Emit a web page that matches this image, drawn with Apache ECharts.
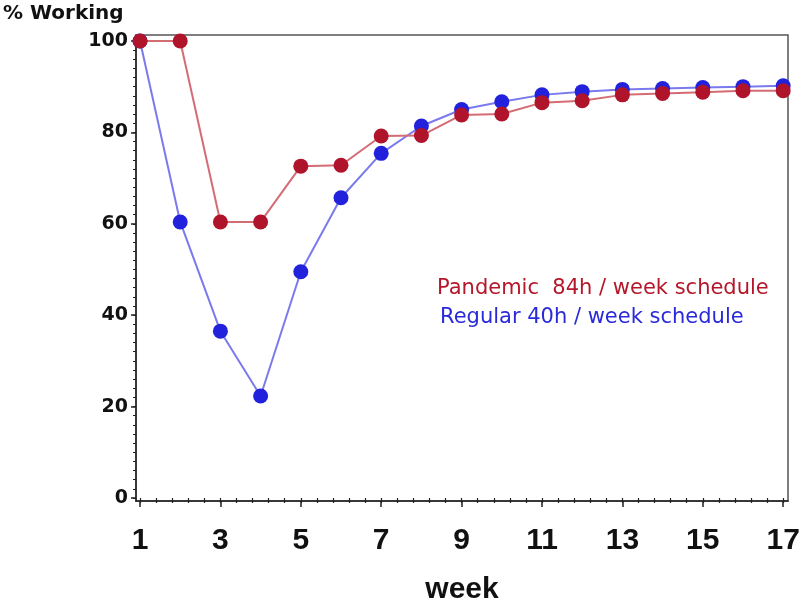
<!DOCTYPE html>
<html>
<head>
<meta charset="utf-8">
<script src="https://cdn.jsdelivr.net/npm/echarts@6/dist/echarts.min.js"></script>
<style>html,body{margin:0;padding:0;background:#fff;}#c{width:800px;height:601px;}</style>
</head>
<body>
<div id="c"></div>
<script>
var weeks = [1,2,3,4,5,6,7,8,9,10,11,12,13,14,15,16,17];
var pandemic = [100,100,60.4,60.4,72.6,72.8,79.2,79.3,83.8,84.0,86.5,86.9,88.2,88.5,88.8,89.1,89.1];
var regular = [100,60.4,36.5,22.3,49.5,65.7,75.4,81.4,85.0,86.7,88.2,88.9,89.4,89.6,89.8,90.0,90.2];
var xTickLabels = [1,3,5,7,9,11,13,15,17];
var yTickLabels = [0,20,40,60,80,100];
var seriesNames = ['Pandemic  84h / week schedule', 'Regular 40h / week schedule'];

var xMinor = [];
for (var i = 0; i <= 40; i++) xMinor.push(+(1 + i * 0.4).toFixed(2));
var yMinor = [];
for (var j = 0; j <= 50; j++) yMinor.push(j * 2);

function pairs(ys){ return weeks.map(function(w,k){ return [w, ys[k]]; }); }

var chart = echarts.init(document.getElementById('c'), null, {renderer:'canvas'});
var xMin = 0.9, xMax = 17.12, yMin = -0.66, yMax = 101.3;
chart.setOption({
  animation: false,
  backgroundColor: '#fff',
  grid: {left: 136, right: 12, top: 35, bottom: 100, show: true, borderColor: '#555', borderWidth: 1.5, backgroundColor: 'transparent', containLabel: false, outerBoundsMode: 'none'},
  xAxis: [{
    type: 'value', min: xMin, max: xMax,
    axisLine: {show: true, onZero: false, lineStyle: {color: '#222', width: 1.5}},
    axisTick: {show: true, customValues: xTickLabels, length: 6, lineStyle: {color: '#222', width: 1.5}},
    axisLabel: {customValues: xTickLabels, margin: 25, fontFamily: 'Liberation Sans', fontWeight: 'bold', fontSize: 30, color: '#111'},
    splitLine: {show: false},
    name: 'week', nameLocation: 'middle', nameGap: 74,
    nameTextStyle: {fontFamily: 'Liberation Sans', fontWeight: 'bold', fontSize: 30, color: '#111'}
  },{
    type: 'value', min: xMin, max: xMax, position: 'bottom',
    axisLine: {show: false},
    axisTick: {show: true, customValues: xMinor, length: 5, lineStyle: {color: '#222', width: 1.2}},
    axisLabel: {show: false}, splitLine: {show: false}
  }],
  yAxis: [{
    type: 'value', min: yMin, max: yMax,
    axisLine: {show: true, onZero: false, lineStyle: {color: '#222', width: 1.5}},
    axisTick: {show: true, customValues: yTickLabels, length: 5, lineStyle: {color: '#222', width: 1.5}},
    axisLabel: {customValues: yTickLabels, margin: 8, fontFamily: 'DejaVu Sans', fontWeight: 'bold', fontSize: 19, color: '#111'},
    splitLine: {show: false}
  },{
    type: 'value', min: yMin, max: yMax, position: 'left',
    axisLine: {show: false},
    axisTick: {show: true, customValues: yMinor, length: 3, lineStyle: {color: '#222', width: 1}},
    axisLabel: {show: false}, splitLine: {show: false}
  }],
  graphic: [
    {type: 'text', left: 3, top: 4, style: {text: '% Working', font: 'bold 20px "DejaVu Sans"', fill: '#111'}},
    {type: 'text', left: 437, top: 278, style: {text: seriesNames[0], font: '21px "DejaVu Sans"', fill: '#B5172A'}},
    {type: 'text', left: 440, top: 307, style: {text: seriesNames[1], font: '21px "DejaVu Sans"', fill: '#2A2ADB'}}
  ],
  series: [{
    name: seriesNames[1], type: 'line', data: pairs(regular),
    symbol: 'circle', symbolSize: 15,
    itemStyle: {color: '#2222DD'},
    lineStyle: {color: '#7A7AEE', width: 2}
  },{
    name: seriesNames[0], type: 'line', data: pairs(pandemic),
    symbol: 'circle', symbolSize: 15,
    itemStyle: {color: '#B0142A'},
    lineStyle: {color: '#D46C74', width: 2}
  }]
});
</script>
</body>
</html>
